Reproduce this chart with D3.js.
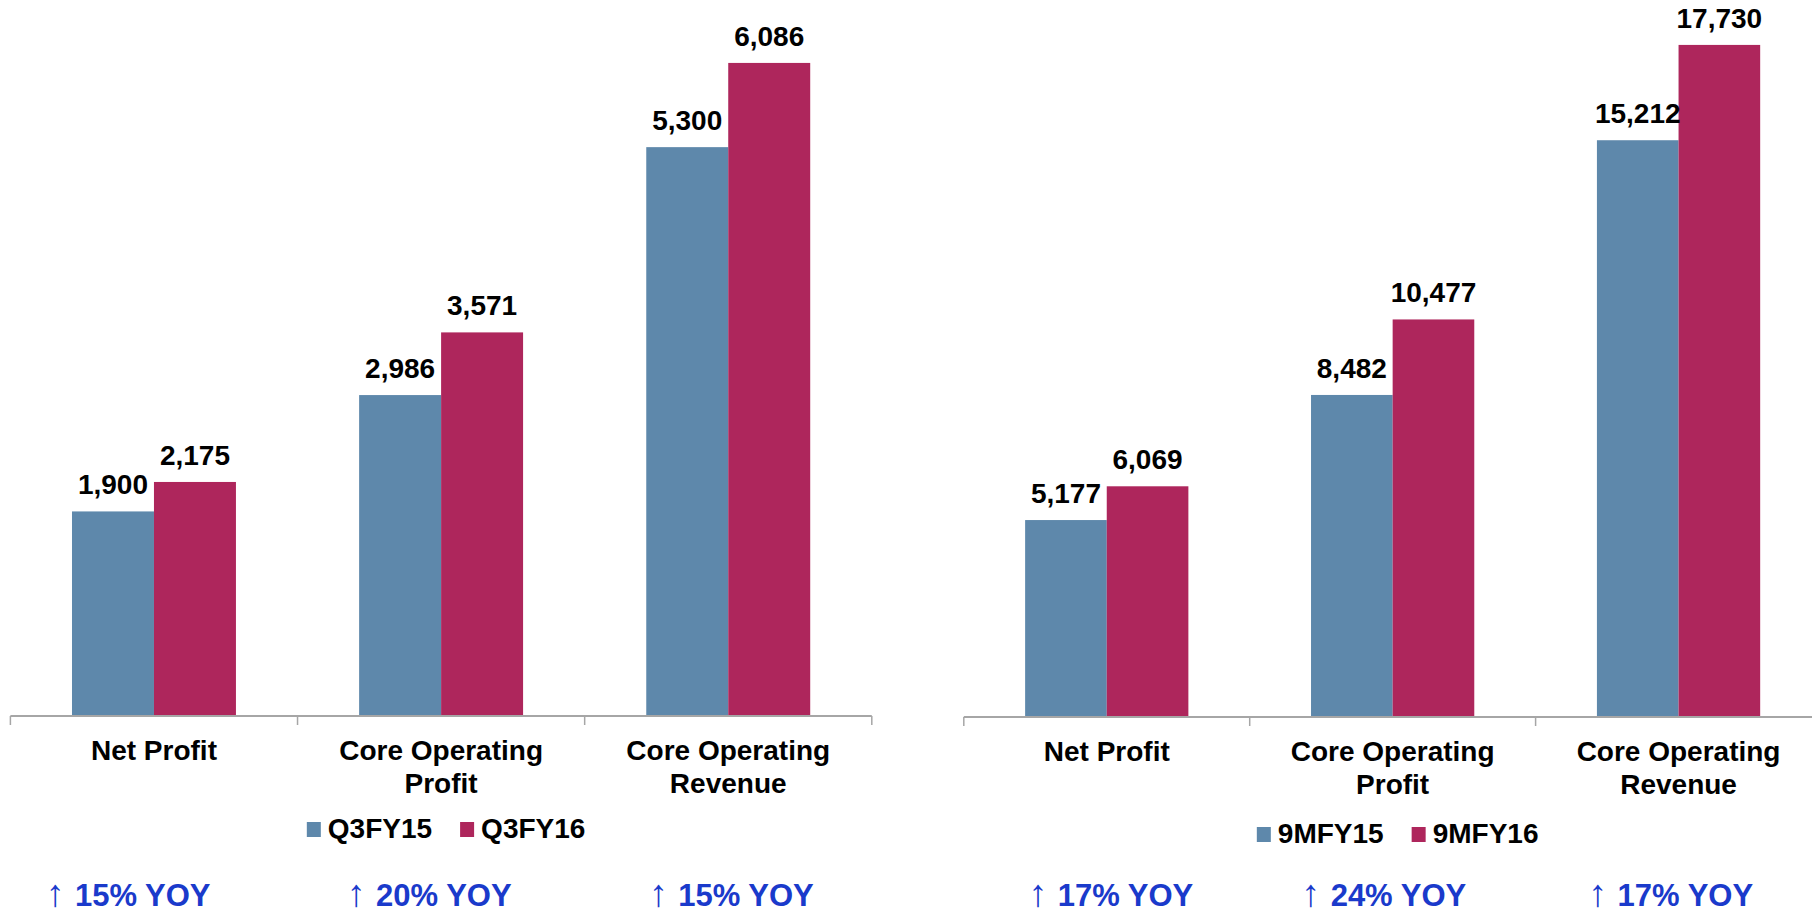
<!DOCTYPE html>
<html>
<head>
<meta charset="utf-8">
<script src="https://cdn.jsdelivr.net/npm/d3@7"></script>
<style>
  body { margin: 0; background: #fff; }
  svg { display: block; font-family: "Liberation Sans", Arial, sans-serif; }
</style>
</head>
<body>
<div id="container"></div>
<script>
// categories shared by both panels
var categories = ["Net Profit", "Core Operating Profit", "Core Operating Revenue"];
var categoryLines = [["Net Profit"], ["Core Operating", "Profit"], ["Core Operating", "Revenue"]];

// quarter panel
var quarterSeries = ["Q3FY15", "Q3FY16"];
var quarterFY15 = [1900, 2986, 5300];
var quarterFY16 = [2175, 3571, 6086];
var quarterGrowth = ["15% YOY", "20% YOY", "15% YOY"];

// nine month panel
var nineSeries = ["9MFY15", "9MFY16"];
var nineFY15 = [5177, 8482, 15212];
var nineFY16 = [6069, 10477, 17730];
var nineGrowth = ["17% YOY", "24% YOY", "17% YOY"];

var colors = ["#5e88ab", "#ae265c"];

var svg = d3.select("div#container")
    .append("svg")
    .attr("width", 1812)
    .attr("height", 913);

function drawPanel(opt) {
    var x0 = d3.scaleBand()
        .domain(categories)
        .range([opt.left, opt.right])
        .padding(0);

    var bw = x0.bandwidth();
    var x1 = d3.scaleBand()
        .domain(opt.series)
        .range([bw * 0.2145, bw * 0.7855]);

    var y = d3.scaleLinear()
        .domain([0, opt.max])
        .range([opt.base, opt.top]);

    var g = svg.append("g");

    var rows = categories.map(function (c, i) {
        return { cat: c, vals: [opt.a[i], opt.b[i]] };
    });

    var groups = g.selectAll("g.grp")
        .data(rows)
        .enter()
        .append("g")
        .attr("class", "grp")
        .attr("transform", function (d) { return "translate(" + x0(d.cat) + ",0)"; });

    var bars = groups.selectAll("rect")
        .data(function (d) { return d.vals.map(function (v, j) { return { s: opt.series[j], v: v, j: j }; }); })
        .enter();

    bars.append("rect")
        .attr("x", function (d) { return x1(d.s); })
        .attr("y", function (d) { return y(d.v); })
        .attr("width", x1.bandwidth())
        .attr("height", function (d) { return opt.base - y(d.v); })
        .attr("fill", function (d) { return colors[d.j]; });

    bars.append("text")
        .attr("x", function (d) { return x1(d.s) + x1.bandwidth() / 2; })
        .attr("y", function (d) { return y(d.v) - 17; })
        .attr("text-anchor", "middle")
        .attr("font-size", 28)
        .attr("font-weight", "bold")
        .attr("fill", "#000")
        .text(function (d) { return d3.format(",")(d.v); });

    // axis line + ticks at band boundaries
    g.append("line")
        .attr("x1", opt.left).attr("x2", opt.right)
        .attr("y1", opt.base + 1).attr("y2", opt.base + 1)
        .attr("stroke", "#a6a6a6").attr("stroke-width", 2);

    var tickPos = categories.map(function (c) { return x0(c); }).concat([opt.right]);
    g.selectAll("line.tick")
        .data(tickPos)
        .enter()
        .append("line")
        .attr("class", "tick")
        .attr("x1", function (d) { return d; }).attr("x2", function (d) { return d; })
        .attr("y1", opt.base + 1).attr("y2", opt.base + 10)
        .attr("stroke", "#a6a6a6").attr("stroke-width", 1.5);

    // category labels
    var cl = g.selectAll("text.cat")
        .data(categories)
        .enter()
        .append("text")
        .attr("class", "cat")
        .attr("text-anchor", "middle")
        .attr("font-size", 28)
        .attr("font-weight", "bold")
        .attr("y", opt.base + 45);

    cl.selectAll("tspan")
        .data(function (d, i) { return categoryLines[i]; })
        .enter()
        .append("tspan")
        .attr("x", function () { return x0(d3.select(this.parentNode).datum()) + bw / 2; })
        .attr("dy", function (d, i) { return i === 0 ? 0 : 33; })
        .text(function (d) { return d; });

    // legend
    var lg = g.append("g");
    var lx = 0;
    opt.series.forEach(function (s, j) {
        lg.append("rect")
            .attr("x", lx).attr("y", -16)
            .attr("width", 14).attr("height", 15)
            .attr("fill", colors[j]);
        var t = lg.append("text")
            .attr("x", lx + 21).attr("y", 0)
            .attr("font-size", 28)
            .attr("font-weight", "bold")
            .text(s);
        lx += 21 + t.node().getComputedTextLength() + 28;
    });
    var lw = lx - 28;
    lg.attr("transform", "translate(" + ((opt.left + opt.right) / 2 + 5 - lw / 2) + "," + opt.legendY + ")");

    // growth notes
    var yo = g.selectAll("text.yoy")
        .data(opt.growth)
        .enter()
        .append("text")
        .attr("class", "yoy")
        .attr("x", function (d, i) { return x0(categories[i]) + bw / 2 + opt.yoyShift[i]; })
        .attr("y", 906)
        .attr("text-anchor", "middle")
        .attr("fill", "#1a3acb");
    yo.append("tspan")
        .attr("font-size", 38)
        .attr("font-weight", "normal")
        .text("\u2191 ");
    yo.append("tspan")
        .attr("font-size", 31)
        .attr("font-weight", "bold")
        .text(function (d) { return d; });
}

drawPanel({
    left: 10.4, right: 871.8, base: 715, top: -35, max: 7000,
    series: quarterSeries, a: quarterFY15, b: quarterFY16,
    growth: quarterGrowth, legendY: 838, yoyShift: [-26, -12, 3]
});

drawPanel({
    left: 963.8, right: 1821.5, base: 716, top: -41, max: 20000,
    series: nineSeries, a: nineFY15, b: nineFY16,
    growth: nineGrowth, legendY: 843, yoyShift: [4, -9, -8]
});
</script>
</body>
</html>
